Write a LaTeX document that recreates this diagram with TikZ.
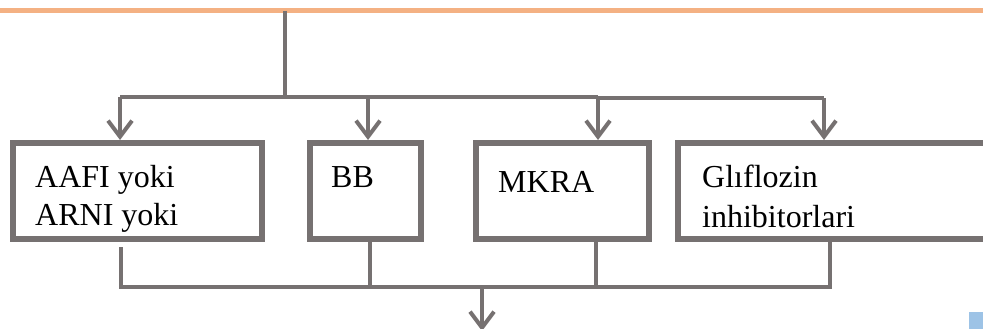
\documentclass[tikz,border=0pt]{standalone}
\usepackage{fontspec}
\setmainfont{Liberation Serif}
\usetikzlibrary{arrows.meta}
\definecolor{lgray}{HTML}{767171}
\definecolor{lorange}{HTML}{F4B183}
\definecolor{lblue}{HTML}{9DC3E6}
\begin{document}
\begin{tikzpicture}[x=1pt,y=-1pt,
  box/.style={draw=lgray,line width=6pt,fill=white,inner sep=0pt},
  conn/.style={draw=lgray,line width=4pt},
  arr/.style={conn,-{Straight Barb[length=16pt,width=24pt]}},
  lbl/.style={anchor=base west,inner sep=0pt,font=\fontsize{32}{39}\selectfont}]
\clip (0,0) rectangle (983,329);
\useasboundingbox (0,0) rectangle (983,329);
% top orange line
\coordinate (tl) at (0,10.5);
\coordinate (tr) at (983,10.5);
\draw[lorange,line width=5pt] (tl) -- (tr);
% boxes
\node[box,minimum width=249pt,minimum height=96pt] (b1) at (137.5,191) {};
\node[box,minimum width=111.5pt,minimum height=96pt] (b2) at (365.25,191) {};
\node[box,minimum width=173pt,minimum height=96pt] (b3) at (562.5,191) {};
\node[box,minimum width=330pt,minimum height=96pt] (b4) at (843,191) {};
% texts
\node[lbl] (t1a) at (35,187) {AAFI yoki};
\node[lbl] (t1b) at (35,225) {ARNI yoki};
\node[lbl] (t2) at (331,187) {BB};
\node[lbl] (t3) at (498,192) {MKRA};
\node[lbl] (t4a) at (702,187) {Glıflozin};
\node[lbl] (t4b) at (702,227) {inhibitorlari};
% top distribution
\coordinate (top) at (284.5,11);
\coordinate (j0) at (284.5,96.7);
\coordinate (ja) at (120,96.7);
\coordinate (jb) at (368,96.7);
\coordinate (jc) at (598,96.7);
\coordinate (jc2) at (598,98);
\coordinate (jd) at (824,98);
\draw[conn] (top) -- (j0);
\draw[conn] (ja) -- (jc);
\draw[conn] (jc2) -- (jd);
\draw[arr] (ja) -- (ja |- b1.north);
\draw[arr] (jb) -- (jb |- b2.north);
\draw[arr] (jc) -- (jc |- b3.north);
\draw[arr] (jd) -- (jd |- b4.north);
% bottom collection
\coordinate (ba) at (121,287);
\coordinate (bb) at (370,287);
\coordinate (bc) at (596,287);
\coordinate (bd) at (830,287);
\coordinate (bo) at (482,287);
\coordinate (end) at (482,331);
\coordinate (s1) at (121,247);
\draw[conn] (s1) -- (ba);
\draw[conn] (bb |- b2.south) -- (bb);
\draw[conn] (bc |- b3.south) -- (bc);
\draw[conn] (bd |- b4.south) -- (bd);
\draw[conn] ([xshift=-2pt]ba) -- ([xshift=2pt]bd);
\draw[arr] (bo) -- (end);
% small blue square
\fill[lblue] (969,312) rectangle (983,329);
\end{tikzpicture}
\end{document}
